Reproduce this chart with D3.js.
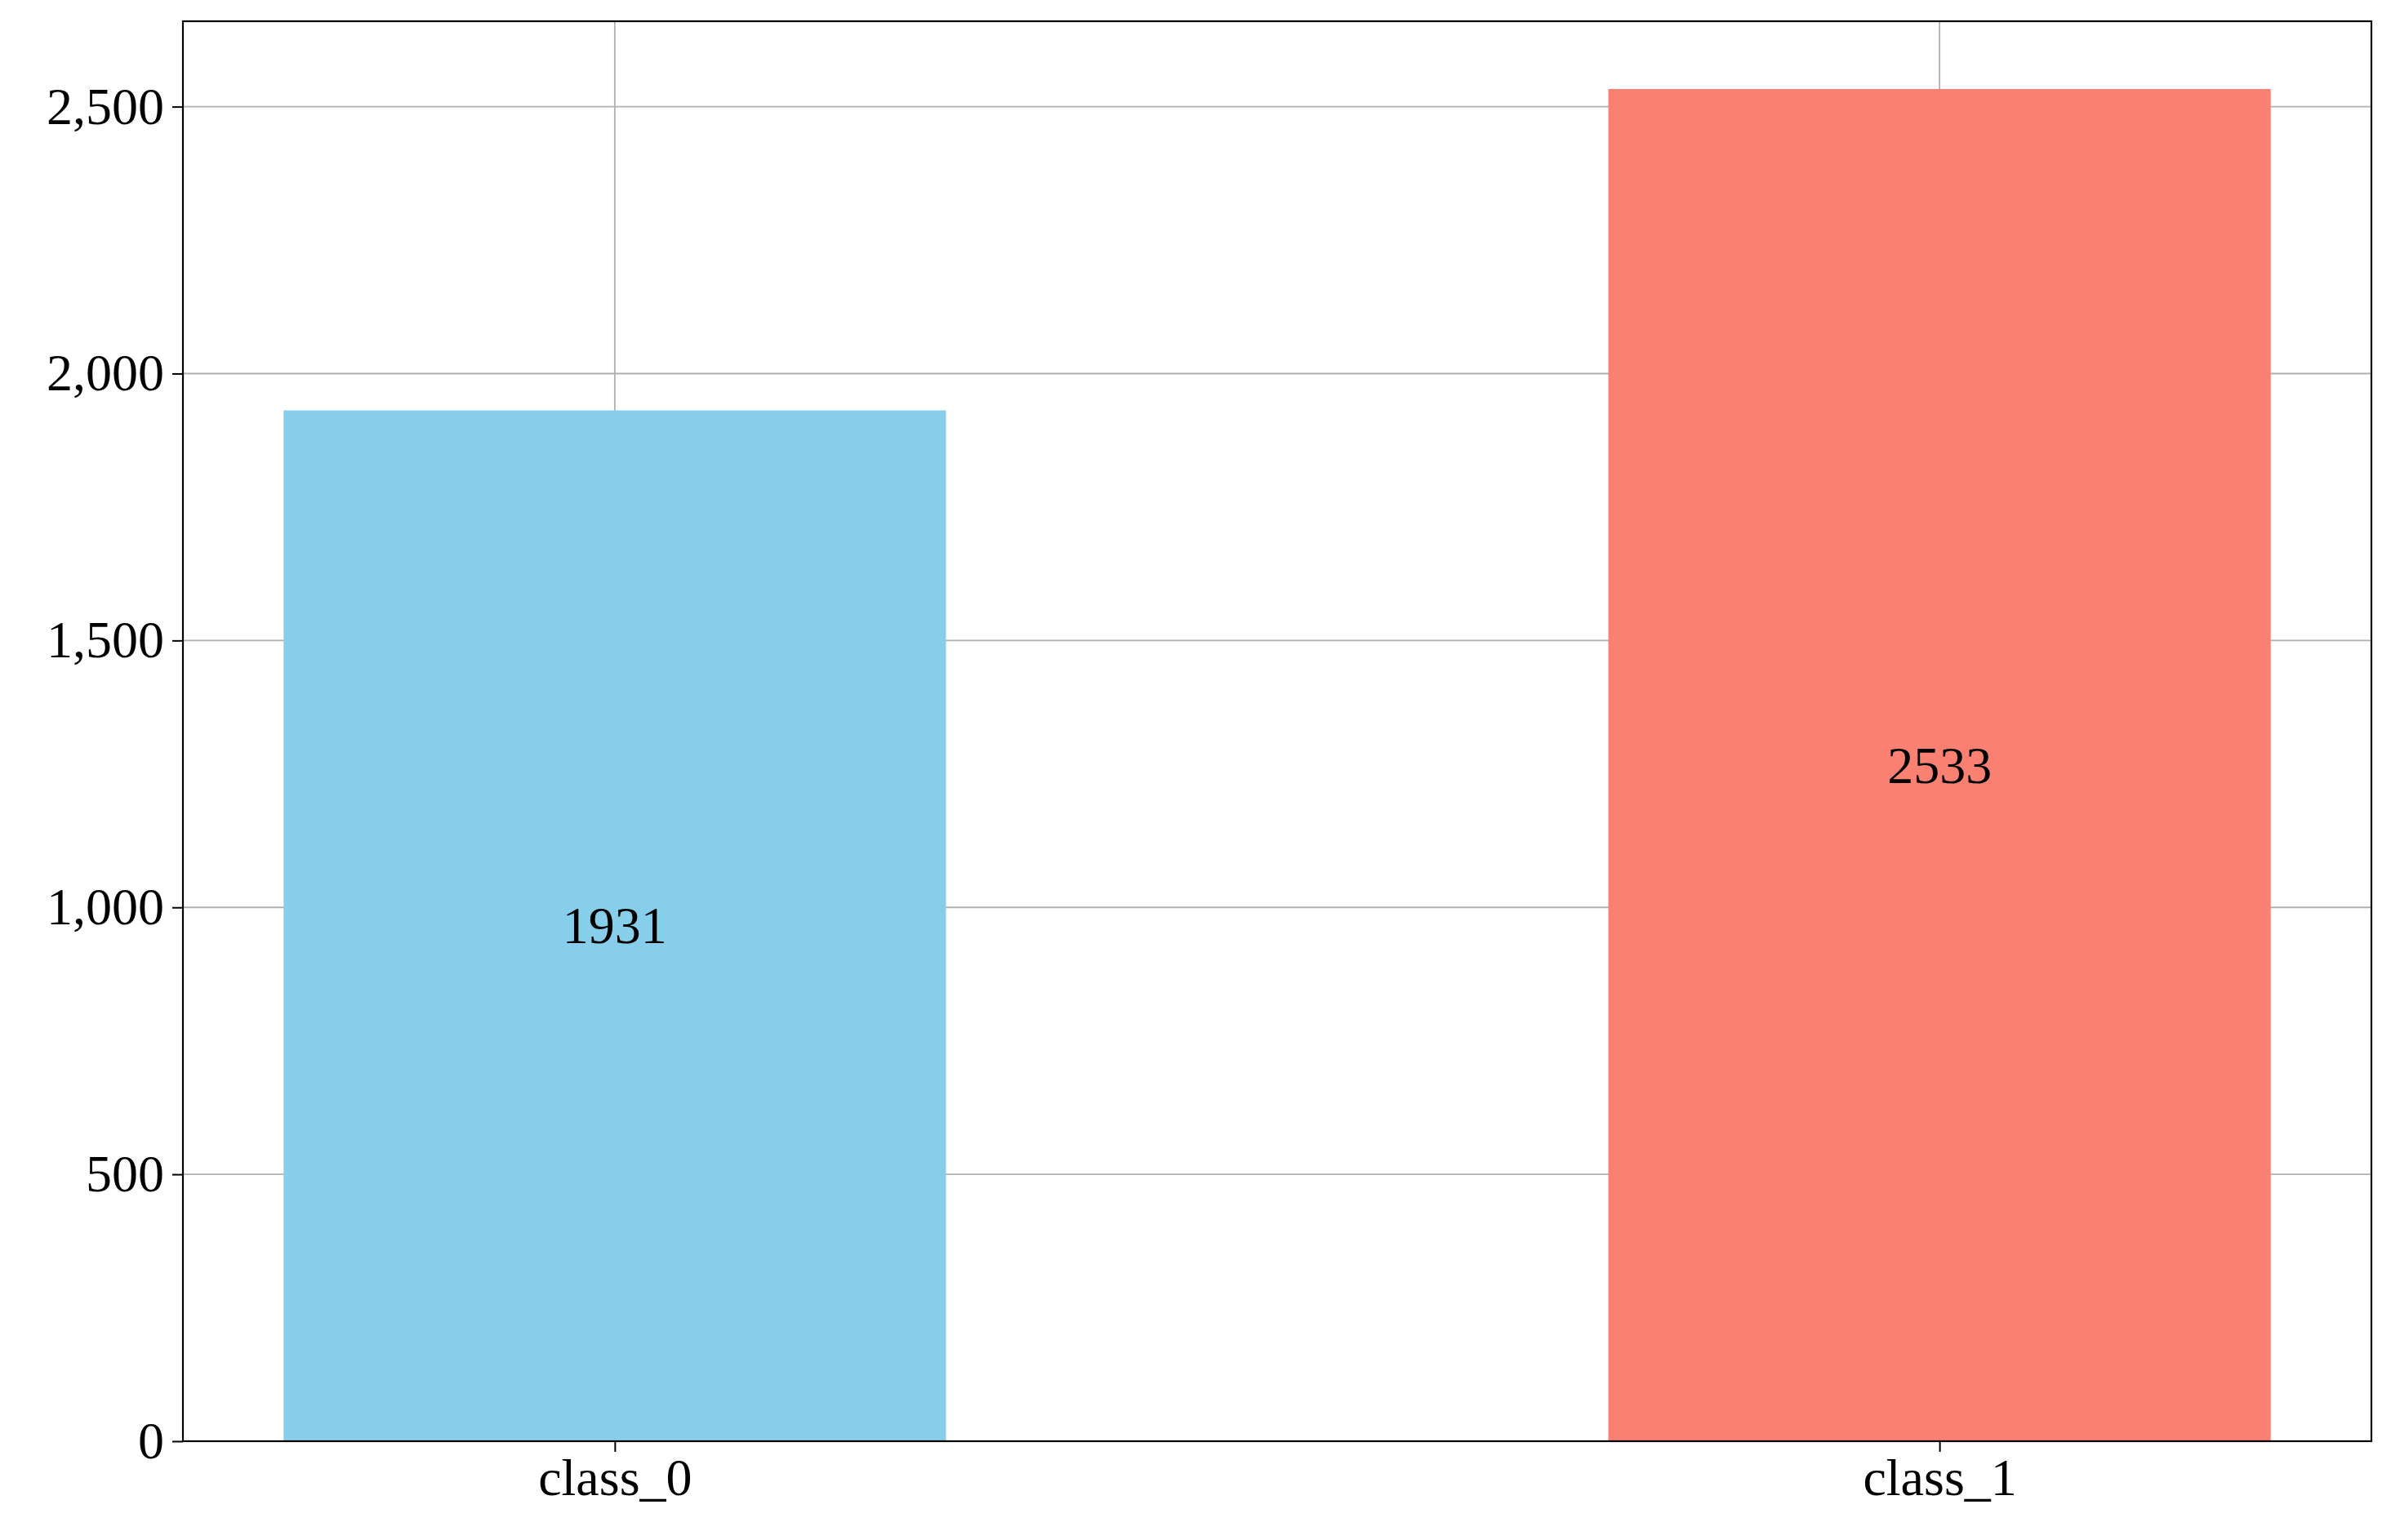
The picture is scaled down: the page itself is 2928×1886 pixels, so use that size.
<!DOCTYPE html>
<html><head><meta charset="utf-8">
<script src="https://cdn.jsdelivr.net/npm/d3@7"></script>
<style>body{margin:0;background:#fff}svg{display:block}</style>
</head><body>
<script>
const categories = ["class_0", "class_1"];
const counts = [1931, 2533];
const colors = ["#87CEEB", "#FA8072"];
const yTicks = [0, 500, 1000, 1500, 2000, 2500];

const W = 2928, H = 1886;
const m = {left: 224, right: 24, top: 26, bottom: 121};
const svg = d3.select("body").append("svg").attr("width", W).attr("height", H);
const x = d3.scaleLinear().domain([-0.326, 1.326]).range([m.left, W - m.right]);
const y = d3.scaleLinear().domain([0, 2660]).range([H - m.bottom, m.top]);
const font = "'Liberation Serif','Times New Roman',serif";
const bw = x(0.5) - x(0);

const g = svg.append("g");
// grid
g.selectAll(".hg").data(yTicks).join("line")
  .attr("x1", m.left).attr("x2", W - m.right)
  .attr("y1", d => y(d)).attr("y2", d => y(d))
  .attr("stroke", "#b0b0b0").attr("stroke-width", 1.8);
g.selectAll(".vg").data(categories).join("line")
  .attr("x1", (d, i) => x(i)).attr("x2", (d, i) => x(i))
  .attr("y1", m.top).attr("y2", H - m.bottom)
  .attr("stroke", "#b0b0b0").attr("stroke-width", 1.8);
// bars
g.selectAll("rect.bar").data(counts).join("rect")
  .attr("x", (d, i) => x(i) - bw / 2).attr("width", bw)
  .attr("y", d => y(d)).attr("height", d => y(0) - y(d))
  .attr("fill", (d, i) => colors[i]);
g.selectAll("text.val").data(counts).join("text")
  .attr("x", (d, i) => x(i)).attr("y", d => y(d / 2))
  .attr("text-anchor", "middle").attr("dominant-baseline", "central")
  .attr("font-family", font).attr("font-size", 64).text(d => d);
// axes
const ya = svg.append("g").attr("transform", `translate(${m.left},0)`)
  .call(d3.axisLeft(y).tickValues(yTicks).tickSize(13).tickPadding(10));
const xa = svg.append("g").attr("transform", `translate(0,${H - m.bottom})`)
  .call(d3.axisBottom(x).tickValues([0, 1]).tickFormat(i => categories[i]).tickSize(13).tickPadding(8));
[ya, xa].forEach(a => {
  a.select(".domain").remove();
  a.selectAll("line").attr("stroke", "#000").attr("stroke-width", 2);
  a.selectAll("text").attr("font-family", font).attr("font-size", 64).attr("fill", "#000");
});
svg.append("rect").attr("x", m.left).attr("y", m.top)
  .attr("width", W - m.left - m.right).attr("height", H - m.top - m.bottom)
  .attr("fill", "none").attr("stroke", "#000").attr("stroke-width", 2.2);
</script>
</body></html>
